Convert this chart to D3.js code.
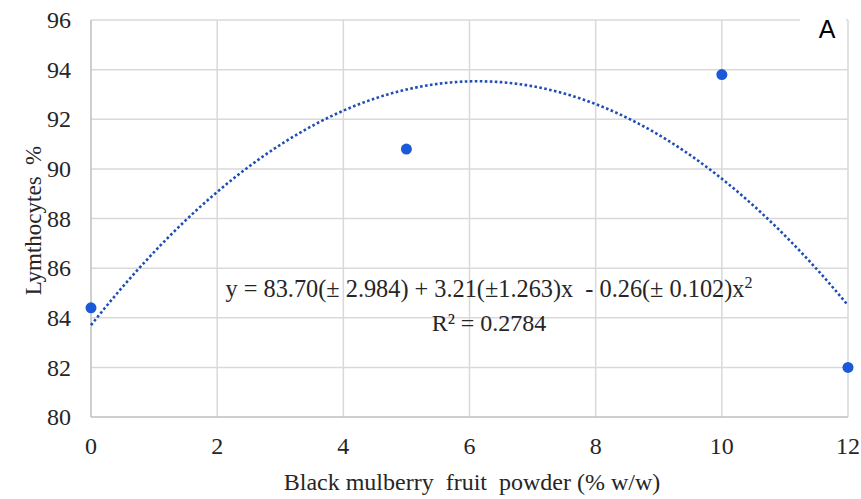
<!DOCTYPE html>
<html>
<head>
<meta charset="utf-8">
<script src="https://cdn.jsdelivr.net/npm/d3@7"></script>
<style>
  body { margin: 0; background: #fff; }
</style>
</head>
<body>
<svg id="chart"></svg>
<script>
// measured points
const doses = [0, 5, 10, 12];
const lymphocytes = [84.4, 90.8, 93.8, 82.0];
const xTicks = [0, 2, 4, 6, 8, 10, 12];
const yTicks = [80, 82, 84, 86, 88, 90, 92, 94, 96];
const equationText = "y = 83.70(\u00b1 2.984) + 3.21(\u00b11.263)x  - 0.26(\u00b1 0.102)x";
const r2Text = "R\u00b2 = 0.2784";

const width = 861, height = 499;
const margin = { top: 20, right: 13, bottom: 82, left: 91 };
const serif = "'Liberation Serif', 'Times New Roman', Times, serif";

const svg = d3.select('#chart')
  .attr('width', width)
  .attr('height', height)
  .attr('font-family', serif)
  .style('font-family', serif);

const x = d3.scaleLinear().domain([0, 12]).range([margin.left, width - margin.right]);
const y = d3.scaleLinear().domain([80, 96]).range([height - margin.bottom, margin.top]);

// gridlines
svg.append('g').selectAll('line')
  .data(yTicks.slice(1))
  .enter().append('line')
  .attr('x1', x(0)).attr('x2', x(12))
  .attr('y1', d => y(d)).attr('y2', d => y(d))
  .style('stroke', '#d9d9d9').style('stroke-width', 1.5);

svg.append('g').selectAll('line')
  .data(xTicks.slice(1))
  .enter().append('line')
  .attr('x1', d => x(d)).attr('x2', d => x(d))
  .attr('y1', y(80)).attr('y2', y(96))
  .style('stroke', '#d9d9d9').style('stroke-width', 1.5);

// axis lines
svg.append('line')
  .attr('x1', x(0)).attr('x2', x(0)).attr('y1', y(80)).attr('y2', y(96))
  .style('stroke', '#bfbfbf').style('stroke-width', 1.5);
svg.append('line')
  .attr('x1', x(0)).attr('x2', x(12)).attr('y1', y(80)).attr('y2', y(80))
  .style('stroke', '#bfbfbf').style('stroke-width', 1.5);

// tick labels
svg.append('g').selectAll('text')
  .data(yTicks)
  .enter().append('text')
  .attr('x', x(0) - 20)
  .attr('y', d => y(d))
  .attr('dy', '0.34em')
  .attr('text-anchor', 'end')
  .style('font-size', '24px')
  .style('fill', '#262626')
  .text(d => d);

svg.append('g').selectAll('text')
  .data(xTicks)
  .enter().append('text')
  .attr('x', d => x(d))
  .attr('y', y(80) + 37)
  .attr('text-anchor', 'middle')
  .style('font-size', '24px')
  .style('fill', '#262626')
  .text(d => d);

// axis titles
svg.append('text')
  .attr('x', 472)
  .attr('y', 490)
  .attr('text-anchor', 'middle')
  .style('font-size', '24px')
  .style('fill', '#262626')
  .style('white-space', 'pre')
  .text('Black mulberry  fruit  powder (% w/w)');

svg.append('text')
  .attr('transform', `translate(41, ${(y(80) + y(96)) / 2 + 2}) rotate(-90)`)
  .attr('text-anchor', 'middle')
  .style('font-size', '23px')
  .style('fill', '#262626')
  .style('white-space', 'pre')
  .text('Lymthocytes  %');

// quadratic least squares trendline from the points
function fitQuadratic(xs, ys) {
  const S = k => d3.sum(xs, v => Math.pow(v, k));
  const T = k => d3.sum(xs, (v, i) => Math.pow(v, k) * ys[i]);
  const A = [[S(0), S(1), S(2)], [S(1), S(2), S(3)], [S(2), S(3), S(4)]];
  const B = [T(0), T(1), T(2)];
  for (let i = 0; i < 3; i++) {
    for (let j = i + 1; j < 3; j++) {
      const f = A[j][i] / A[i][i];
      for (let k = i; k < 3; k++) A[j][k] -= f * A[i][k];
      B[j] -= f * B[i];
    }
  }
  const c = [0, 0, 0];
  for (let i = 2; i >= 0; i--) {
    let s = B[i];
    for (let k = i + 1; k < 3; k++) s -= A[i][k] * c[k];
    c[i] = s / A[i][i];
  }
  return c;
}

const coef = fitQuadratic(doses, lymphocytes);
const trendX = d3.range(0, 12.001, 0.1);
const line = d3.line()
  .x(d => x(d))
  .y(d => y(coef[0] + coef[1] * d + coef[2] * d * d));

svg.append('path')
  .datum(trendX)
  .attr('d', line)
  .style('fill', 'none')
  .style('stroke', '#1f4fb4')
  .style('stroke-width', 2.6)
  .style('stroke-dasharray', '2.6,2.4');

// points
svg.append('g').selectAll('circle')
  .data(doses)
  .enter().append('circle')
  .attr('cx', d => x(d))
  .attr('cy', (d, i) => y(lymphocytes[i]))
  .attr('r', 5.5)
  .style('fill', '#1b5ad6');

// equation label
const eq = svg.append('text')
  .attr('x', 489)
  .attr('y', 297)
  .attr('text-anchor', 'middle')
  .style('font-size', '24.3px')
  .style('fill', '#262626')
  .style('white-space', 'pre');
eq.append('tspan').text(equationText);
eq.append('tspan').attr('dy', -9).style('font-size', '16px').text('2');

svg.append('text')
  .attr('x', 489)
  .attr('y', 331)
  .attr('text-anchor', 'middle')
  .style('font-size', '24px')
  .style('fill', '#262626')
  .text(r2Text);

// panel letter
svg.append('rect')
  .attr('x', 800).attr('y', 12).attr('width', 46).attr('height', 12)
  .style('fill', '#fff');
svg.append('text')
  .attr('x', 827)
  .attr('y', 38)
  .attr('text-anchor', 'middle')
  .style('font-family', "'Liberation Sans', Arial, sans-serif")
  .style('font-size', '25px')
  .style('fill', '#000')
  .text('A');
</script>
</body>
</html>
